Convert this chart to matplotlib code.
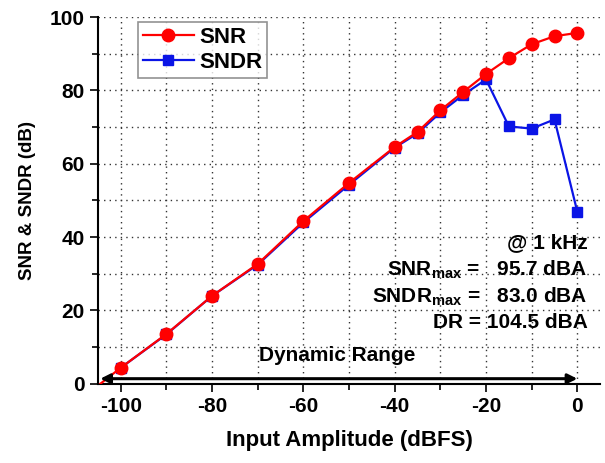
import matplotlib
matplotlib.use("Agg")
import matplotlib.pyplot as plt
from matplotlib.ticker import MultipleLocator

plt.rcParams['font.family'] = ['Liberation Sans', 'DejaVu Sans']
plt.rcParams['font.weight'] = 'bold'
plt.rcParams['axes.unicode_minus'] = False

x_amp = [-100, -90, -80, -70, -60, -50, -40, -35, -30, -25, -20, -15, -10, -5, 0]
snr = [4.4, 13.6, 24.0, 32.7, 44.4, 54.8, 64.6, 68.7, 74.6, 79.6, 84.5, 88.8, 92.6, 94.8, 95.7]
sndr = [4.4, 13.5, 24.0, 32.5, 44.0, 54.3, 64.4, 68.3, 74.0, 78.8, 83.0, 70.2, 69.6, 72.1, 46.9]
dr_start = -104.5
dr_end = 0
annot = ["@ 1 kHz", r"SNR$_{\mathregular{max}}$ =   95.7 dBA",
         r"SNDR$_{\mathregular{max}}$ =   83.0 dBA", "DR = 104.5 dBA"]

fig = plt.figure(figsize=(6.05, 4.63), dpi=100)
ax = fig.add_axes([0.162, 0.171, 0.830, 0.792])

ax.plot(x_amp, sndr, color='#0a14e6', lw=1.6, marker='s', ms=7.5,
        mec='#0a14e6', mfc='#0a14e6', label='SNDR', zorder=3)
ax.plot([dr_start] + x_amp, [0] + snr, color='#ff0000', lw=1.6, marker='o', ms=9,
        markevery=list(range(1, len(x_amp) + 1)), mec='#ff0000', mfc='#ff0000',
        label='SNR', zorder=4)

ax.set_xlim(-105, 5)
ax.set_ylim(0, 100)
ax.xaxis.set_major_locator(MultipleLocator(20))
ax.xaxis.set_minor_locator(MultipleLocator(10))
ax.yaxis.set_major_locator(MultipleLocator(20))
ax.yaxis.set_minor_locator(MultipleLocator(10))
ax.set_xticks([-100, -80, -60, -40, -20, 0])
ax.grid(True, which='both', linestyle=(0, (1, 3)), color='#333333', lw=1.0)
for s in ['top', 'right']:
    ax.spines[s].set_visible(False)
ax.spines['left'].set_linewidth(1.5)
ax.spines['bottom'].set_linewidth(1.5)
ax.tick_params(which='both', direction='out', width=1.2, labelsize=15)
ax.tick_params(which='major', length=6)
ax.tick_params(which='minor', length=4)
for lab in ax.get_xticklabels() + ax.get_yticklabels():
    lab.set_fontweight('bold')

ax.set_xlabel('Input Amplitude (dBFS)', fontsize=16, fontweight='bold', labelpad=10)
ax.set_ylabel('SNR & SNDR (dB)', fontsize=13.5, fontweight='bold', labelpad=10)

handles, labels = ax.get_legend_handles_labels()
leg = ax.legend(handles[::-1], labels[::-1], loc='upper left', bbox_to_anchor=(0.08, 0.986),
                fontsize=16, frameon=True, fancybox=False, edgecolor='#777777',
                borderpad=0.2, handlelength=2.3, handletextpad=0.25, labelspacing=0.2,
                borderaxespad=0)
leg.get_frame().set_linewidth(1.2)
for t in leg.get_texts():
    t.set_fontweight('bold')

ax.annotate('', xy=(dr_end, 1.4), xytext=(dr_start, 1.4),
            arrowprops=dict(arrowstyle='<|-|>', color='black', lw=2.2,
                            mutation_scale=14, shrinkA=0, shrinkB=0), zorder=5)
ax.text(-52.5, 7.8, 'Dynamic Range', ha='center', va='center', fontsize=15, fontweight='bold')

ys = [38.4, 31.0, 23.7, 16.6]
for t, yv in zip(annot, ys):
    ax.text(2.2, yv, t, ha='right', va='center', fontsize=15, fontweight='bold')

fig.savefig('out.png', dpi=100)
